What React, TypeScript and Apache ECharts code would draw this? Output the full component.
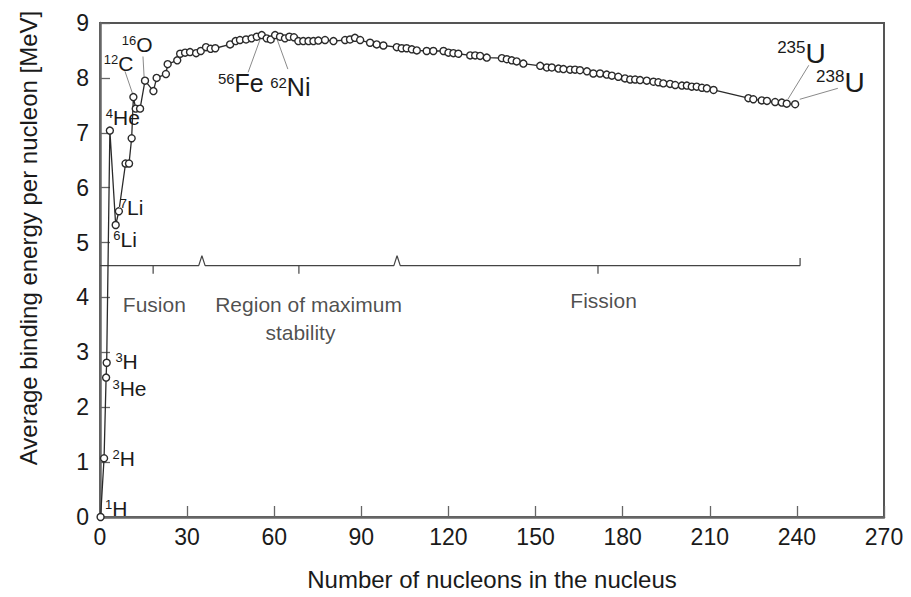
import React, { useEffect, useRef } from "react";
import * as echarts from "echarts";

// ---- data ----
// mass number (as plotted) and average binding energy per nucleon [MeV]
const massNumbers = [
  0.2, 1.4, 2.1, 2.3, 3.4, 5.4, 6.5, 8.8, 10.0, 10.9, 11.5, 12.3, 13.8, 15.5, 18.4, 19.5, 22.7, 23.3, 26.6, 27.6,
  29.3, 31.0, 33.1, 34.7, 36.5, 38.1, 39.7, 44.8, 46.7, 48.2, 50.3, 52.2, 54.0, 55.7, 57.4, 58.8, 60.3, 62.0, 63.7, 65.2,
  66.8, 68.3, 70.0, 71.8, 73.5, 75.2, 77.5, 80.4, 84.4, 86.1, 87.8, 89.6, 93.0, 95.3, 97.6, 102.2, 103.9, 105.6, 107.4, 109.1,
  112.5, 114.8, 118.3, 120.0, 121.7, 123.4, 127.5, 129.2, 130.9, 133.2, 138.4, 140.1, 141.8, 143.5, 145.8, 151.6, 153.9, 155.6, 157.9, 159.6,
  161.9, 163.6, 165.3, 167.7, 169.9, 172.2, 174.5, 176.3, 178.5, 180.8, 182.6, 184.3, 186.0, 188.3, 190.6, 192.3, 194.0, 196.3, 198.1, 200.4,
  202.1, 203.8, 205.5, 207.3, 209.0, 211.3, 223.3, 225.0, 227.9, 229.7, 232.5, 234.8, 236.5, 239.4,
];
const bindingEnergies = [
  0.0, 1.07, 2.54, 2.81, 7.04, 5.32, 5.57, 6.44, 6.44, 6.9, 7.65, 7.44, 7.44, 7.95, 7.76, 8.0, 8.07, 8.25, 8.32, 8.44,
  8.46, 8.47, 8.45, 8.49, 8.56, 8.53, 8.54, 8.61, 8.67, 8.69, 8.7, 8.72, 8.75, 8.78, 8.72, 8.7, 8.78, 8.75, 8.72, 8.75,
  8.74, 8.67, 8.67, 8.67, 8.67, 8.68, 8.69, 8.67, 8.69, 8.7, 8.73, 8.69, 8.64, 8.61, 8.59, 8.56, 8.54, 8.54, 8.52, 8.5,
  8.49, 8.49, 8.49, 8.46, 8.45, 8.44, 8.41, 8.41, 8.4, 8.37, 8.36, 8.34, 8.32, 8.3, 8.26, 8.22, 8.19, 8.19, 8.17, 8.16,
  8.15, 8.15, 8.14, 8.12, 8.08, 8.08, 8.06, 8.04, 8.02, 7.99, 7.97, 7.97, 7.96, 7.95, 7.93, 7.92, 7.9, 7.89, 7.87, 7.86,
  7.86, 7.84, 7.84, 7.82, 7.81, 7.78, 7.63, 7.61, 7.59, 7.58, 7.56, 7.55, 7.53, 7.52,
];

// isotope labels
const isotopeMass = ["1", "2", "3", "3", "4", "6", "7", "12", "16", "56", "62", "235", "238"];
const isotopeElement = ["H", "H", "H", "He", "He", "Li", "Li", "C", "O", "Fe", "Ni", "U", "U"];

// regions along the curve
const regionBounds = [0, 35.1, 102.3, 241.1];
const regionCenters = [18.3, 68.5, 171.5];
const regionTexts = ["Fusion", "Region of maximum", "stability", "Fission"];

// axis ticks
const xMin = 0, xMax = 270, xStep = 30;
const yMin = 0, yMax = 9, yStep = 1;

// ---- layout (annotation anchors in data coordinates) ----
const isotopeLabelAt = [
  [1.7, 0.16], [4.3, 1.06], [5.3, 2.83], [4.3, 2.34], [2.0, 7.28], [4.6, 5.05], [6.8, 5.64],
  [1.3, 8.27], [7.5, 8.6], [40.6, 7.9], [58.6, 7.83], [233.2, 8.45], [246.6, 7.92],
];
const isotopeSizeGroup = [1, 1, 1, 1, 1, 1, 1, 1, 1, 2, 2, 3, 3];
const leaderLines = [
  [[8.6, 8.12], [11.3, 7.7]],
  [[14.8, 8.39], [15.2, 8.01]],
  [[51.0, 8.1], [55.4, 8.74]],
  [[64.7, 8.16], [60.6, 8.76]],
  [[244.1, 8.23], [236.9, 7.61]],
  [[254.1, 7.81], [241.0, 7.61]],
];
const regionTextAt = [[18.9, 3.86], [72.0, 3.86], [69.2, 3.35], [173.6, 3.93]];
const bracketLevel = 4.58, bracketSpike = 4.76, bracketTick = 4.43, bracketEnd = 4.72;

const FONT = "'Liberation Sans', Arial, Helvetica, sans-serif";
const TXT = "#1a1a1a";

export default function App() {
  const ref = useRef<HTMLDivElement>(null);

  useEffect(() => {
    if (!ref.current) return;
    const chart = echarts.init(ref.current, undefined, { renderer: "svg" });

    const curve = massNumbers.map((a, i) => [a, bindingEnergies[i]]);

    // bracket polyline through region boundaries
    const bracket: number[][] = [[regionBounds[0], bracketLevel]];
    for (let i = 1; i < regionBounds.length - 1; i++) {
      const b = regionBounds[i];
      bracket.push([b - 1.1, bracketLevel], [b, bracketSpike], [b + 1.1, bracketLevel]);
    }
    const last = regionBounds[regionBounds.length - 1];
    bracket.push([last, bracketLevel], [last, bracketEnd]);

    const lineSeries = (data: number[][], color: string, width: number) => ({
      type: "line",
      data,
      symbol: "none",
      silent: true,
      lineStyle: { color, width },
      z: 3,
    });

    const tok = (size: number, sup: boolean, color = TXT) => ({
      fontSize: size,
      fontFamily: FONT,
      color,
      textBorderWidth: 0,
      textBorderColor: "transparent",
      ...(sup ? { verticalAlign: "top" } : {}),
    });

    const option: any = {
      animation: false,
      backgroundColor: "#ffffff",
      grid: {
        left: 100,
        right: 27,
        top: 23,
        bottom: 80,
        show: true,
        borderColor: "#555",
        borderWidth: 2,
        backgroundColor: "transparent",
      },
      xAxis: {
        type: "value",
        min: xMin,
        max: xMax,
        interval: xStep,
        name: "Number of nucleons in the nucleus",
        nameLocation: "middle",
        nameGap: 50,
        nameTextStyle: { fontSize: 24, color: TXT, fontFamily: FONT },
        axisLine: { show: true, lineStyle: { color: "#666", width: 2.5 } },
        axisTick: { show: true, inside: true, length: 11, lineStyle: { color: "#666", width: 1.3 } },
        axisLabel: { fontSize: 23, color: TXT, margin: 8, fontFamily: FONT },
        splitLine: { show: false },
      },
      yAxis: {
        type: "value",
        min: yMin,
        max: yMax,
        interval: yStep,
        axisLine: { show: true, lineStyle: { color: "#666", width: 2.5 } },
        axisTick: { show: true, inside: true, length: 10, lineStyle: { color: "#666", width: 1.3 } },
        axisLabel: { fontSize: 23, color: TXT, margin: 11, fontFamily: FONT },
        splitLine: { show: false },
      },
      graphic: [
        {
          type: "text",
          x: 28,
          y: 238,
          rotation: Math.PI / 2,
          style: {
            text: "Average binding energy per nucleon [MeV]",
            fontSize: 24,
            fontFamily: FONT,
            fill: TXT,
            align: "center",
            verticalAlign: "middle",
            textAlign: "center",
            textVerticalAlign: "middle",
          },
        },
      ],
      series: [
        lineSeries(bracket, "#444", 1.2),
        ...regionCenters.map((c) => lineSeries([[c, bracketLevel], [c, bracketTick]], "#444", 1.2)),
        ...leaderLines.map((l) => lineSeries(l, "#8a8a8a", 1)),
        {
          type: "line",
          data: curve,
          symbol: "circle",
          symbolSize: 7,
          silent: true,
          itemStyle: { color: "#ffffff", borderColor: "#2a2a2a", borderWidth: 1.4 },
          lineStyle: { color: "#2a2a2a", width: 1.3 },
          z: 5,
        },
        {
          type: "scatter",
          silent: true,
          symbolSize: 1,
          itemStyle: { color: "#ffffff", opacity: 1 },
          z: 6,
          data: isotopeLabelAt.map((p) => p),
          label: {
            show: true,
            position: "inside",
            align: "left",
            verticalAlign: "middle",
            color: TXT,
            textBorderWidth: 0,
            textBorderColor: "transparent",
            fontFamily: FONT,
            formatter: (p: any) => {
              const i = p.dataIndex;
              const g = isotopeSizeGroup[i];
              return `{s${g}|${isotopeMass[i]}}{m${g}|${isotopeElement[i]}}`;
            },
            rich: {
              s1: tok(13, true),
              m1: tok(21, false),
              s2: tok(15, true),
              m2: tok(25, false),
              s3: tok(17, true),
              m3: tok(28, false),
            },
          },
        },
        {
          type: "scatter",
          silent: true,
          symbolSize: 1,
          itemStyle: { color: "#ffffff" },
          z: 6,
          data: regionTextAt.map((p) => p),
          label: {
            show: true,
            position: [0, 0],
            align: "center",
            verticalAlign: "middle",
            color: "#1f1f1f",
            fontSize: 21,
            fontFamily: FONT,
            formatter: (p: any) => regionTexts[p.dataIndex],
          },
        },
      ],
    };

    chart.setOption(option);
    return () => chart.dispose();
  }, []);

  return (
    <div
      ref={ref}
      style={{ position: "fixed", left: 0, top: 0, width: 911, height: 597, background: "#fff" }}
    />
  );
}
